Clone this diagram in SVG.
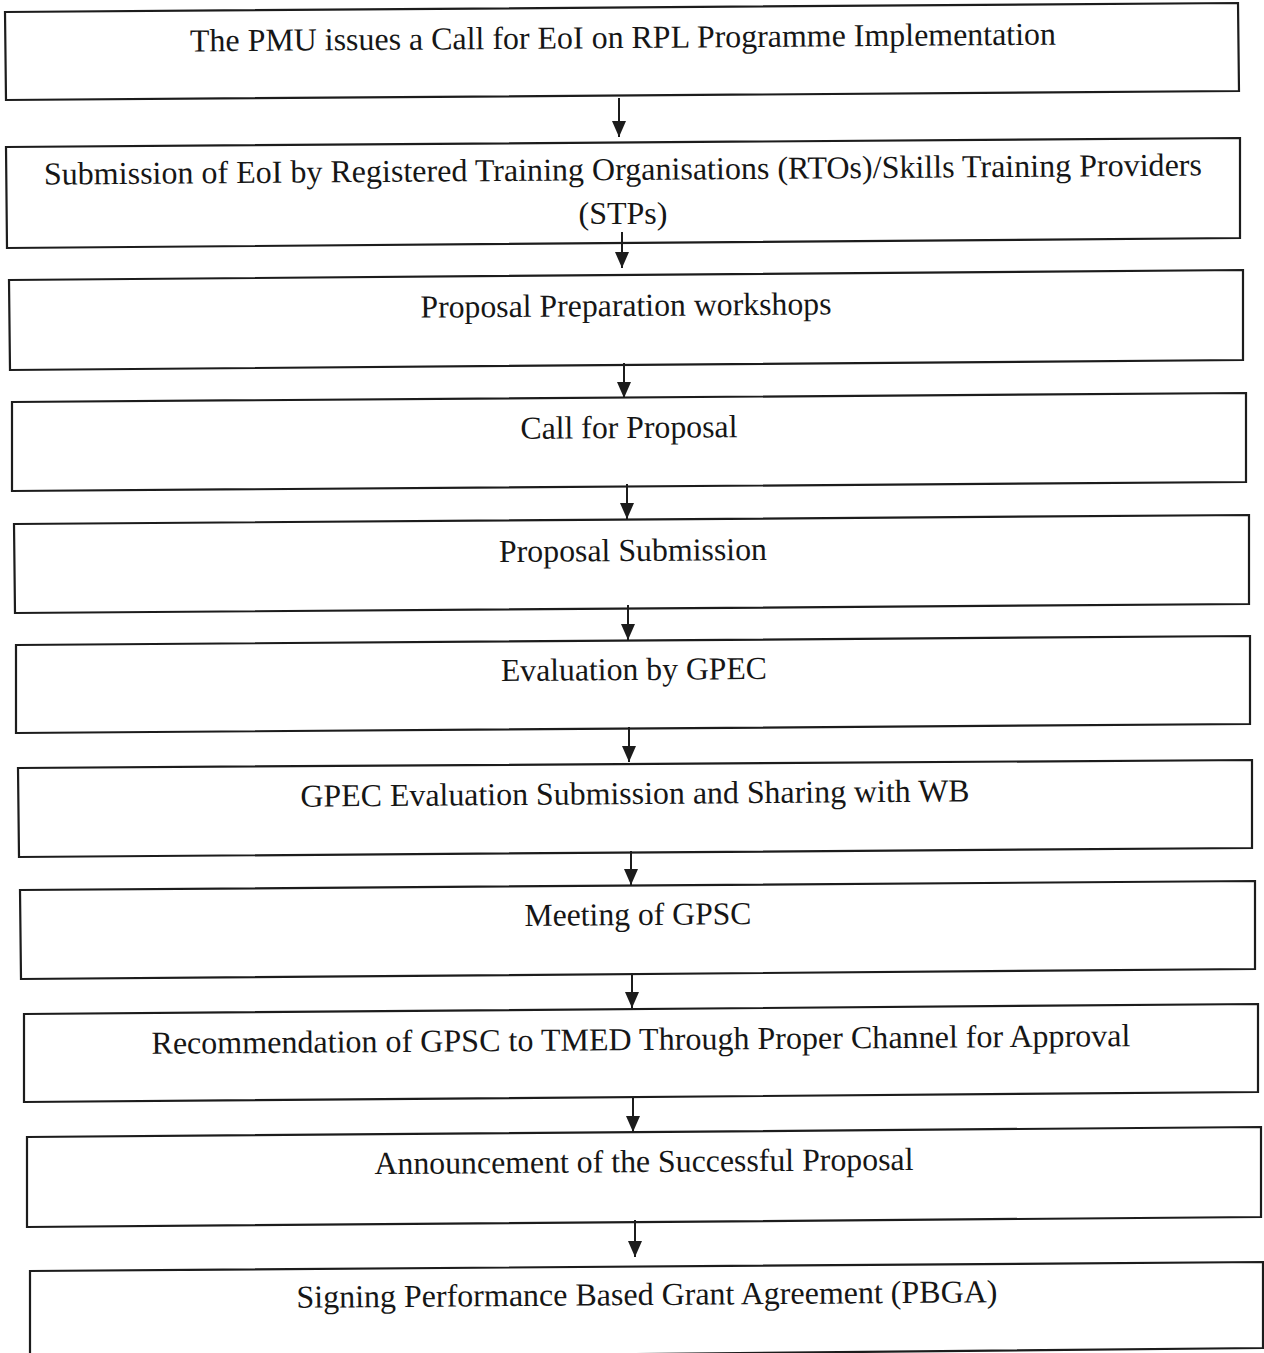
<svg xmlns="http://www.w3.org/2000/svg" width="1264" height="1353" viewBox="0 0 1264 1353">
<style>
.box{fill:#ffffff;stroke:#1c1c1c;stroke-width:2.2;stroke-linejoin:miter}
.lbl{font-family:"Liberation Serif","Times New Roman",serif;font-size:32px;fill:#161616;text-anchor:middle}
.conn{stroke:#1c1c1c;stroke-width:2;fill:none}
</style>
<defs>
<marker id="ah" viewBox="0 0 16 14" refX="16" refY="7" markerWidth="16" markerHeight="14" markerUnits="userSpaceOnUse" orient="auto">
<path d="M0,0 L16,7 L0,14 Z" fill="#1c1c1c"/>
</marker>
</defs>
<rect x="0" y="0" width="1264" height="1353" fill="#ffffff"/>
<g id="n1"><polygon class="box" points="5,12 1238,3 1239,91 6,100"/><text class="lbl" x="623" y="48" textLength="866" lengthAdjust="spacingAndGlyphs" transform="rotate(-0.45 623 48)">The PMU issues a Call for EoI on RPL Programme Implementation</text></g>
<g id="n2"><polygon class="box" points="6,147 1240,138 1240,238 7,248"/><text class="lbl" x="623" y="180" textLength="1158" lengthAdjust="spacingAndGlyphs" transform="rotate(-0.45 623 180)">Submission of EoI by Registered Training Organisations (RTOs)/Skills Training Providers</text><text class="lbl" x="623" y="224">(STPs)</text></g>
<g id="n3"><polygon class="box" points="9,280 1243,270 1243,360 10,370"/><text class="lbl" x="626" y="316" textLength="411" lengthAdjust="spacingAndGlyphs" transform="rotate(-0.45 626 316)">Proposal Preparation workshops</text></g>
<g id="n4"><polygon class="box" points="12,402 1246,393 1246,482 12,491"/><text class="lbl" x="629" y="438" textLength="217" lengthAdjust="spacingAndGlyphs" transform="rotate(-0.45 629 438)">Call for Proposal</text></g>
<g id="n5"><polygon class="box" points="14,524 1249,515 1249,604 15,613"/><text class="lbl" x="633" y="561" textLength="268" lengthAdjust="spacingAndGlyphs" transform="rotate(-0.45 633 561)">Proposal Submission</text></g>
<g id="n6"><polygon class="box" points="16,645 1250,636 1250,724 16,733"/><text class="lbl" x="634" y="680" textLength="266" lengthAdjust="spacingAndGlyphs" transform="rotate(-0.45 634 680)">Evaluation by GPEC</text></g>
<g id="n7"><polygon class="box" points="18,768 1252,760 1252,848 19,857"/><text class="lbl" x="635" y="804" textLength="669" lengthAdjust="spacingAndGlyphs" transform="rotate(-0.45 635 804)">GPEC Evaluation Submission and Sharing with WB</text></g>
<g id="n8"><polygon class="box" points="20,890 1255,881 1255,969 21,979"/><text class="lbl" x="638" y="925" textLength="227" lengthAdjust="spacingAndGlyphs" transform="rotate(-0.45 638 925)">Meeting of GPSC</text></g>
<g id="n9"><polygon class="box" points="24,1014 1258,1004 1258,1092 24,1102"/><text class="lbl" x="641" y="1050" textLength="979" lengthAdjust="spacingAndGlyphs" transform="rotate(-0.45 641 1050)">Recommendation of GPSC to TMED Through Proper Channel for Approval</text></g>
<g id="n10"><polygon class="box" points="27,1137 1261,1127 1261,1217 27,1227"/><text class="lbl" x="644" y="1172" textLength="539" lengthAdjust="spacingAndGlyphs" transform="rotate(-0.45 644 1172)">Announcement of the Successful Proposal</text></g>
<g id="n11"><polygon class="box" points="30,1271 1263,1262 1263,1348 30,1360"/><text class="lbl" x="647" y="1305" textLength="701" lengthAdjust="spacingAndGlyphs" transform="rotate(-0.45 647 1305)">Signing Performance Based Grant Agreement (PBGA)</text></g>
<g id="connectors">
<line class="conn" x1="619" y1="98" x2="619" y2="137" marker-end="url(#ah)"/>
<line class="conn" x1="622" y1="232" x2="622" y2="268" marker-end="url(#ah)"/>
<line class="conn" x1="624" y1="363" x2="624" y2="398" marker-end="url(#ah)"/>
<line class="conn" x1="627" y1="484" x2="627" y2="519" marker-end="url(#ah)"/>
<line class="conn" x1="628" y1="605" x2="628" y2="640" marker-end="url(#ah)"/>
<line class="conn" x1="629" y1="727" x2="629" y2="762" marker-end="url(#ah)"/>
<line class="conn" x1="631" y1="851" x2="631" y2="885" marker-end="url(#ah)"/>
<line class="conn" x1="632" y1="973" x2="632" y2="1008" marker-end="url(#ah)"/>
<line class="conn" x1="633" y1="1097" x2="633" y2="1132" marker-end="url(#ah)"/>
<line class="conn" x1="635" y1="1220" x2="635" y2="1257" marker-end="url(#ah)"/>
</g>
</svg>
